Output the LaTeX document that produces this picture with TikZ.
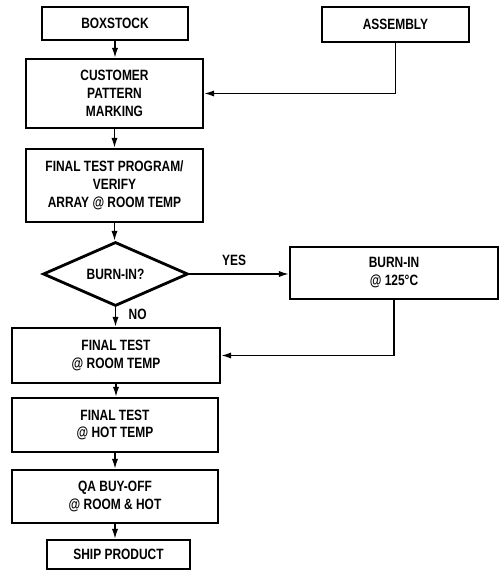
\documentclass[tikz,border=0pt]{standalone}
\usepackage{fontspec}
\setmainfont{Liberation Sans}[FakeStretch=0.8]
\usetikzlibrary{arrows.meta,positioning,shapes.geometric}

\tikzset{
  stepbox/.style={draw, line width=1.6pt, align=center, inner sep=0pt,
    font=\bfseries\fontsize{8.5}{10.2}\selectfont},
  decision/.style={stepbox, diamond, aspect=2.2},
  flow/.style={line width=0.7pt, -{Latex[length=5.5pt,width=3.5pt]}},
  tag/.style={font=\bfseries\fontsize{8.5}{10.2}\selectfont}
}

\begin{document}
\begin{tikzpicture}
  \useasboundingbox (0,0) rectangle (10.02,-11.50);

  % main column
  \node[stepbox, minimum width=2.92cm, minimum height=0.66cm] (boxstock) at (2.30,-0.47) {BOXSTOCK};
  \node[stepbox, minimum width=3.54cm, minimum height=1.38cm] (customer) at (2.29,-1.87) {CUSTOMER\\PATTERN\\MARKING};
  \node[stepbox, minimum width=3.54cm, minimum height=1.46cm] (program) at (2.29,-3.71) {FINAL TEST PROGRAM/\\VERIFY\\ARRAY @ ROOM TEMP};
  \node[decision, minimum width=2.90cm, minimum height=1.28cm] (burnq) at (2.31,-5.48) {BURN-IN?};
  \node[stepbox, minimum width=4.16cm, minimum height=1.10cm] (roomtemp) at (2.32,-7.11) {FINAL TEST\\@ ROOM TEMP};
  \node[stepbox, minimum width=4.12cm, minimum height=1.08cm] (hottemp) at (2.30,-8.50) {FINAL TEST\\@ HOT TEMP};
  \node[stepbox, minimum width=4.12cm, minimum height=1.06cm] (qa) at (2.30,-9.93) {QA BUY-OFF\\@ ROOM \& HOT};
  \node[stepbox, minimum width=2.86cm, minimum height=0.58cm] (ship) at (2.37,-11.09) {SHIP PRODUCT};

  % right side
  \node[stepbox, minimum width=2.94cm, minimum height=0.70cm] (assembly) at (7.91,-0.49) {ASSEMBLY};
  \node[stepbox, minimum width=4.16cm, minimum height=1.04cm] (burnin) at (7.88,-5.46) {BURN-IN\\@ 125°C};

  \foreach \a/\b in {boxstock/customer, customer/program, program/burnq,
                     burnq/roomtemp, roomtemp/hottemp, hottemp/qa, qa/ship}
    \draw[flow] (\a.south) -- (\a.south |- \b.north);

  \draw[flow] (assembly.south) |- (customer.east);
  \draw[flow] (burnq.east) -- (burnq.east -| burnin.west)
    node[tag, pos=0.45, above=1pt] (yes) {YES};
  \draw[flow] (burnin.south) |- (roomtemp.east);
  \node[tag, anchor=west] (no) at (2.45,-6.28) {NO};
\end{tikzpicture}
\end{document}
